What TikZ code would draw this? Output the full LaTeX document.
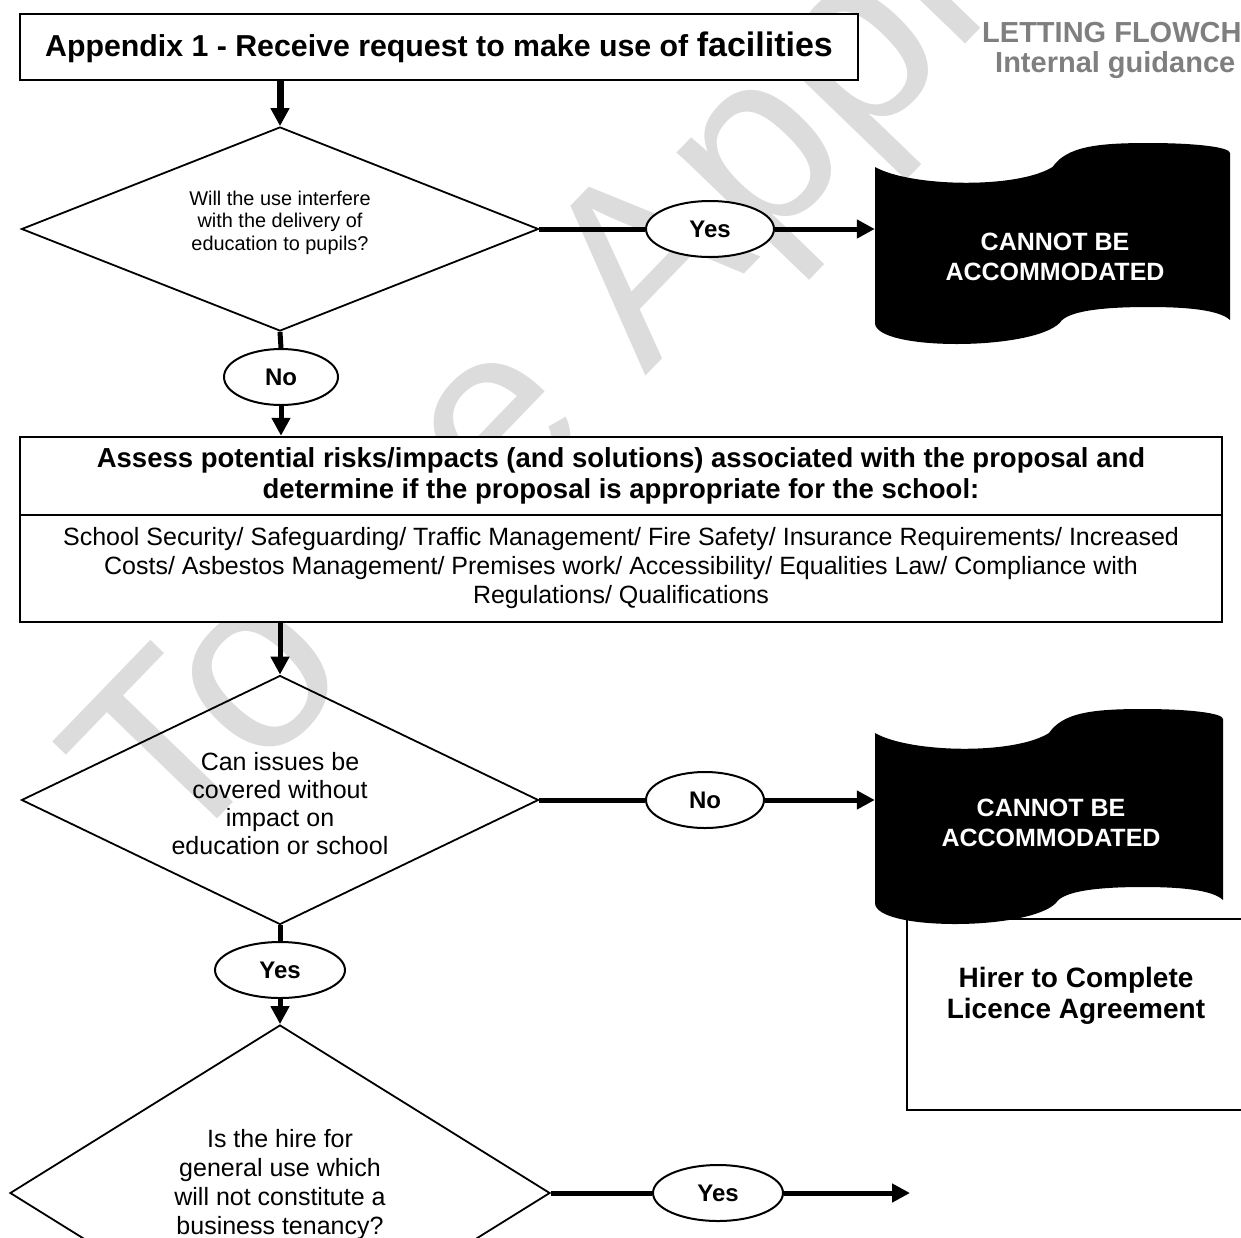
\documentclass[tikz,border=0pt]{standalone}
\usepackage{fontspec}
\setmainfont{Liberation Sans}
\usepackage{tikz}
\usepackage{xcolor}
\usetikzlibrary{shapes.geometric,arrows.meta}

\definecolor{markgray}{HTML}{DCDCDC}
\definecolor{headgray}{HTML}{7F7F7F}

\newcommand{\tapeshape}[3]{%
  \fill[shift={(#1)}] (0,0)
    .. controls ({0.10*#2},20) and ({0.40*#2},22) .. ({0.50*#2},0)
    .. controls ({0.54*#2},-20) and ({0.62*#2},-24) .. ({0.77*#2},-24)
    .. controls ({0.90*#2},-24) and (#2,-20) .. (#2,-14)
    -- (#2,{#3-3})
    .. controls ({0.97*#2},{#3-13}) and ({0.88*#2},{#3-16}) .. ({0.77*#2},{#3-16})
    .. controls ({0.64*#2},{#3-16}) and ({0.54*#2},{#3-12}) .. ({0.52*#2},#3)
    .. controls ({0.44*#2},{#3+28}) and (0,{#3+28}) .. (0,#3)
    -- cycle;}

\tikzset{
  flowline/.style={line width=5pt},
  flowarrow/.style={line width=5pt, -{Triangle[length=18pt, width=18pt]}},
  decision/.style={diamond, draw, line width=1.8pt, inner sep=0pt},
  question/.style 2 args={align=center, font=\fontsize{#1}{#2}\selectfont},
  answer/.style={ellipse, draw, fill=white, line width=2pt, inner sep=0pt,
    minimum height=56pt, font=\bfseries\fontsize{24}{26}\selectfont},
  stoptext/.style={text=white, align=center, inner sep=0pt,
    font=\bfseries\fontsize{25}{30}\selectfont},
  plainbox/.style={rectangle, draw, fill=white, inner sep=0pt, align=center},
  headtext/.style={anchor=west, text=headgray, inner sep=0pt,
    font=\bfseries\fontsize{29}{32}\selectfont},
  watermark/.style={text=markgray, inner sep=0pt, font=\fontsize{250}{250}\selectfont}
}

\begin{document}
\begin{tikzpicture}[x=1pt, y=-1pt]
\useasboundingbox (0,0) rectangle (1241,1237);

\node[watermark, rotate=46, anchor=base west] (stamp) at (172,866) {To be Approved};

\node[plainbox, 
      line width=2.5pt, 
      minimum width=838pt, 
      minimum height=66pt, 
      font=\bfseries\fontsize{30.3}{34}\selectfont] 
(request) at (439,47) {Appendix 1 - Receive request to make use of {\fontsize{34}{38}\selectfont facilities}};
\node[headtext] (heading) at (982,33) {LETTING FLOWCHART};
\node[headtext] (subheading) at (995,65) {Internal guidance};

\node[decision, 
      minimum width=517pt, 
      minimum height=204pt,
      label={[question={19.9}{22.5}, yshift=6.5pt]center:Will the use interfere\\with the delivery of\\education to pupils?}] 
(d1) at (280,229) {};
\node[answer, minimum width=128pt] (yes1) at (710,229) {Yes};
\node[answer, minimum width=114pt] (no1) at (281,377) {No};
\tapeshape{875,167}{355}{156}
\node[stoptext, minimum width=360pt] (stop1) at (1055,257) {CANNOT BE\\ACCOMMODATED};

\node[plainbox, 
      line width=2.5pt, 
      minimum width=1202pt, 
      minimum height=78pt, 
      font=\bfseries\fontsize{27.5}{31}\selectfont] 
(assesshead) at (621,476) {Assess potential risks/impacts (and solutions) associated with the proposal and\\determine if the proposal is appropriate for the school:};
\node[plainbox, 
      line width=2.5pt, 
      minimum width=1202pt, 
      minimum height=107pt, 
      font=\fontsize{25}{29}\selectfont] 
(assesslist) at (621,568.5) {School Security/ Safeguarding/ Traffic Management/ Fire Safety/ Insurance Requirements/ Increased\\Costs/ Asbestos Management/ Premises work/ Accessibility/ Equalities Law/ Compliance with\\Regulations/ Qualifications};

\node[decision, 
      minimum width=517pt, 
      minimum height=249pt,
      label={[question={25}{28}, yshift=-4pt]center:Can issues be\\covered without\\impact on\\education or school}] 
(d2) at (280,800) {};
\node[answer, minimum width=118pt] (no2) at (705,800) {No};
\node[plainbox, 
      line width=1.5pt, 
      minimum width=353pt, 
      minimum height=191pt,
      label={[align=center, xshift=-7.5pt, yshift=18.5pt, font=\bfseries\fontsize{28}{31}\selectfont]center:Hirer to Complete\\Licence Agreement}] 
(hirer) at (1083.5,1014.5) {};
\tapeshape{875,733}{348}{170}
\node[stoptext, minimum width=352pt] (stop2) at (1051,823) {CANNOT BE\\ACCOMMODATED};
\node[answer, minimum width=130pt] (yes2) at (280,970) {Yes};

\node[decision, 
      minimum width=540pt, 
      minimum height=336pt,
      label={[question={25}{29}, yshift=8pt]center:Is the hire for\\general use which\\will not constitute a\\business tenancy?}] 
(d3) at (280,1193) {};
\node[answer, minimum width=130pt] (yes3) at (718,1193) {Yes};
\coordinate (open) at (910,1193);

\draw[flowarrow, line width=7pt] (request.south -| d1.north) -- (d1.north);
\draw[flowline] (d1.east) -- (yes1.west);
\draw[flowarrow] (yes1.east) -- (yes1 -| stop1.west);
\draw[flowline] (d1.south) -- (no1.north);
\draw[flowarrow] (no1.south) -- (no1 |- assesshead.north);
\draw[flowarrow] (assesslist.south -| d2.north) -- (d2.north);
\draw[flowline] (d2.east) -- (no2.west);
\draw[flowarrow] (no2.east) -- (no2 -| stop2.west);
\draw[flowline] (d2.south) -- (yes2.north);
\draw[flowarrow] (yes2.south) -- (d3.north);
\draw[flowline] (d3.east) -- (yes3.west);
\draw[flowarrow] (yes3.east) -- (open);
\end{tikzpicture}
\end{document}
